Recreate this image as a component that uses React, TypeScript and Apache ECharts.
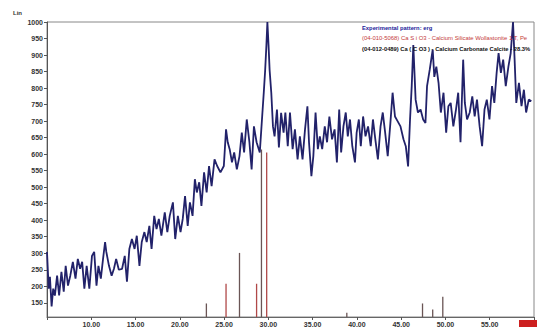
import React, { useEffect, useRef } from "react";
import * as echarts from "echarts";

// 2-theta (degrees) and counts of the experimental pattern
const twoTheta: number[] = [
  5.0, 5.19, 5.33, 5.52, 5.7, 5.89, 6.14, 6.37, 6.63, 6.89, 7.11, 7.37, 7.63, 7.92, 8.22, 8.48, 8.74, 8.97,
  9.22, 9.48, 9.78, 10.08, 10.33, 10.59, 10.81, 11.08, 11.33, 11.56, 11.7, 12.0, 12.3, 12.56, 12.81, 13.11,
  13.48, 13.78, 14.03, 14.3, 14.59, 14.89, 15.14, 15.44, 15.7, 16.0, 16.26, 16.56, 16.81, 17.11, 17.37, 17.63,
  17.92, 18.3, 18.59, 18.86, 19.22, 19.48, 19.78, 20.08, 20.33, 20.59, 20.89, 21.14, 21.44, 21.7, 21.92, 22.19,
  22.44, 22.74, 23.03, 23.3, 23.59, 23.92, 24.22, 24.59, 24.97, 25.22, 25.41, 25.63, 25.89, 26.14, 26.44, 26.74,
  27.0, 27.26, 27.56, 27.86, 28.11, 28.37, 28.67, 29.03, 29.33, 29.48, 29.63, 29.78, 29.89, 30.02, 30.14, 30.33,
  30.52, 30.7, 30.97, 31.19, 31.44, 31.72, 31.92, 32.19, 32.44, 32.74, 33.0, 33.3, 33.56, 33.86, 34.14, 34.41,
  34.59, 34.86, 35.08, 35.33, 35.59, 35.81, 36.08, 36.37, 36.63, 36.89, 37.19, 37.48, 37.74, 38.0, 38.22, 38.48,
  38.74, 38.97, 39.22, 39.48, 39.78, 39.97, 40.22, 40.44, 40.7, 40.97, 41.26, 41.56, 41.81, 42.08, 42.37, 42.67,
  42.92, 43.19, 43.48, 43.78, 44.03, 44.3, 44.59, 44.92, 45.26, 45.52, 45.78, 46.0, 46.19, 46.37, 46.63, 46.89,
  47.19, 47.48, 47.74, 47.92, 48.22, 48.56, 48.74, 48.97, 49.22, 49.48, 49.78, 50.08, 50.33, 50.59, 50.89, 51.19,
  51.44, 51.7, 52.0, 52.19, 52.44, 52.74, 53.03, 53.3, 53.56, 53.86, 54.14, 54.41, 54.67, 54.97, 55.26, 55.52,
  55.78, 56.0, 56.26, 56.52, 56.81, 57.11, 57.37, 57.63, 57.81, 58.0, 58.3, 58.59, 58.86, 59.11, 59.41, 59.7,
];
const counts: number[] = [
  304, 193, 229, 139, 193, 172, 232, 172, 244, 184, 262, 202, 232, 274, 223, 283, 253, 274,
  193, 262, 193, 292, 304, 202, 262, 223, 283, 334, 304, 262, 232, 253, 283, 250,
  253, 292, 214, 313, 343, 313, 353, 262, 334, 364, 334, 383, 313, 413, 373, 404,
  353, 424, 364, 413, 454, 343, 413, 364, 404, 473, 383, 454, 413, 524, 484, 515,
  443, 545, 484, 564, 503, 584, 564, 545, 564, 675, 636, 615, 575, 605, 554, 594,
  665, 605, 705, 636, 554, 684, 636, 605, 726, 786, 850, 930, 1000, 930, 855, 786,
  684, 654, 735, 620, 725, 665, 726, 624, 726, 615, 675, 584, 654, 584, 675, 745,
  636, 533, 594, 726, 615, 654, 615, 684, 636, 714, 645, 675, 575, 735, 605, 684,
  726, 654, 705, 624, 575, 665, 705, 624, 714, 654, 684, 624, 705, 645, 584, 684,
  726, 665, 594, 694, 786, 714, 700, 684, 645, 624, 563, 705, 806, 930, 765, 726,
  735, 705, 694, 806, 855, 916, 834, 865, 816, 726, 786, 665, 745, 755, 684, 735,
  786, 636, 886, 755, 705, 726, 775, 714, 765, 684, 624, 735, 765, 705, 806, 755,
  846, 906, 846, 886, 806, 865, 906, 1000, 886, 755, 816, 745, 795, 726, 765, 760,
];

// Reference sticks: Wollastonite (red) and Calcite (dark)
const wollPos: number[] = [25.22, 28.67, 29.81];
const wollInt: number[] = [208, 208, 605];
const calcPos: number[] = [23.0, 26.74, 29.22, 38.86, 47.41, 48.56, 49.7];
const calcInt: number[] = [148, 301, 614, 120, 148, 130, 168];

const yTicks: number[] = [150, 200, 250, 300, 350, 400, 450, 500, 550, 600, 650, 700, 750, 800, 850, 900, 950, 1000];

const legendLines: string[] = [
  "Experimental pattern: erg",
  "(04-010-5068) Ca S i O3 - Calcium Silicate Wollastonite 1 T, Pe",
  "(04-012-0489) Ca ( C O3 ) - Calcium Carbonate Calcite - 28.3%",
];

export default function App() {
  const ref = useRef<HTMLDivElement>(null);
  useEffect(() => {
    if (!ref.current) return;
    const chart = echarts.init(ref.current, null, { renderer: "svg" });
    const font = "Liberation Sans, Arial, sans-serif";
    chart.setOption({
      animation: false,
      backgroundColor: "#ffffff",
      grid: {
        left: 47,
        top: 22,
        width: 495,
        height: 295,
        show: true,
        borderColor: "#888",
        borderWidth: 1,
      },
      xAxis: {
        type: "value",
        min: 5,
        max: 60,
        interval: 5,
        axisLine: { lineStyle: { color: "#666", width: 1 } },
        axisTick: { show: true, length: 3, lineStyle: { color: "#555" } },
        splitLine: { show: false },
        axisLabel: {
          formatter: (v: number) => (v === 5 || v === 60 ? "" : v.toFixed(2)),
          fontSize: 7,
          fontWeight: "bold",
          color: "#333",
          fontFamily: font,
          margin: 4,
        },
      },
      yAxis: {
        type: "value",
        min: 107,
        max: 1000,
        axisLine: { show: true, lineStyle: { color: "#555", width: 1 } },
        axisTick: { show: true, length: 3, customValues: yTicks, lineStyle: { color: "#555" } },
        splitLine: { show: false },
        axisLabel: {
          customValues: yTicks,
          formatter: (v: number) => String(Math.round(v)),
          fontSize: 7,
          fontWeight: "bold",
          color: "#333",
          fontFamily: font,
          margin: 4,
        },
      },
      series: [
        {
          type: "bar",
          data: wollPos.map((p, i) => [p, wollInt[i]]),
          barWidth: 1.3,
          itemStyle: { color: "#b04848" },
          silent: true,
          z: 1,
        },
        {
          type: "bar",
          data: calcPos.map((p, i) => [p, calcInt[i]]),
          barWidth: 1.3,
          barGap: "-100%",
          itemStyle: { color: "#6a5555" },
          silent: true,
          z: 1,
        },
        {
          type: "line",
          data: twoTheta.map((t, i) => [t, counts[i]]),
          showSymbol: false,
          lineStyle: { color: "#22226a", width: 1.8 },
          clip: true,
          z: 3,
        },
      ],
      graphic: [
        {
          type: "text",
          left: 13,
          top: 10,
          style: { text: "Lin", fontSize: 6, fontWeight: "bold", fill: "#333", fontFamily: font },
        },
        {
          type: "text",
          left: 362,
          top: 25,
          style: { text: legendLines[0], fontSize: 5.8, fontWeight: "bold", fill: "#1c1c9a", fontFamily: font },
          z: 10,
        },
        {
          type: "text",
          left: 362,
          top: 35,
          style: { text: legendLines[1], fontSize: 5.9, fill: "#c43a3a", fontFamily: font },
          z: 10,
        },
        {
          type: "text",
          left: 362,
          top: 46,
          style: { text: legendLines[2], fontSize: 5.8, fontWeight: "bold", fill: "#111", fontFamily: font },
          z: 10,
        },
        {
          type: "rect",
          shape: { x: 519, y: 320, width: 18, height: 7 },
          style: { fill: "#cc1f1f" },
        },
      ],
    });
    return () => chart.dispose();
  }, []);
  return (
    <div
      ref={ref}
      style={{ position: "fixed", left: 0, top: 0, width: 537, height: 331 }}
    />
  );
}
